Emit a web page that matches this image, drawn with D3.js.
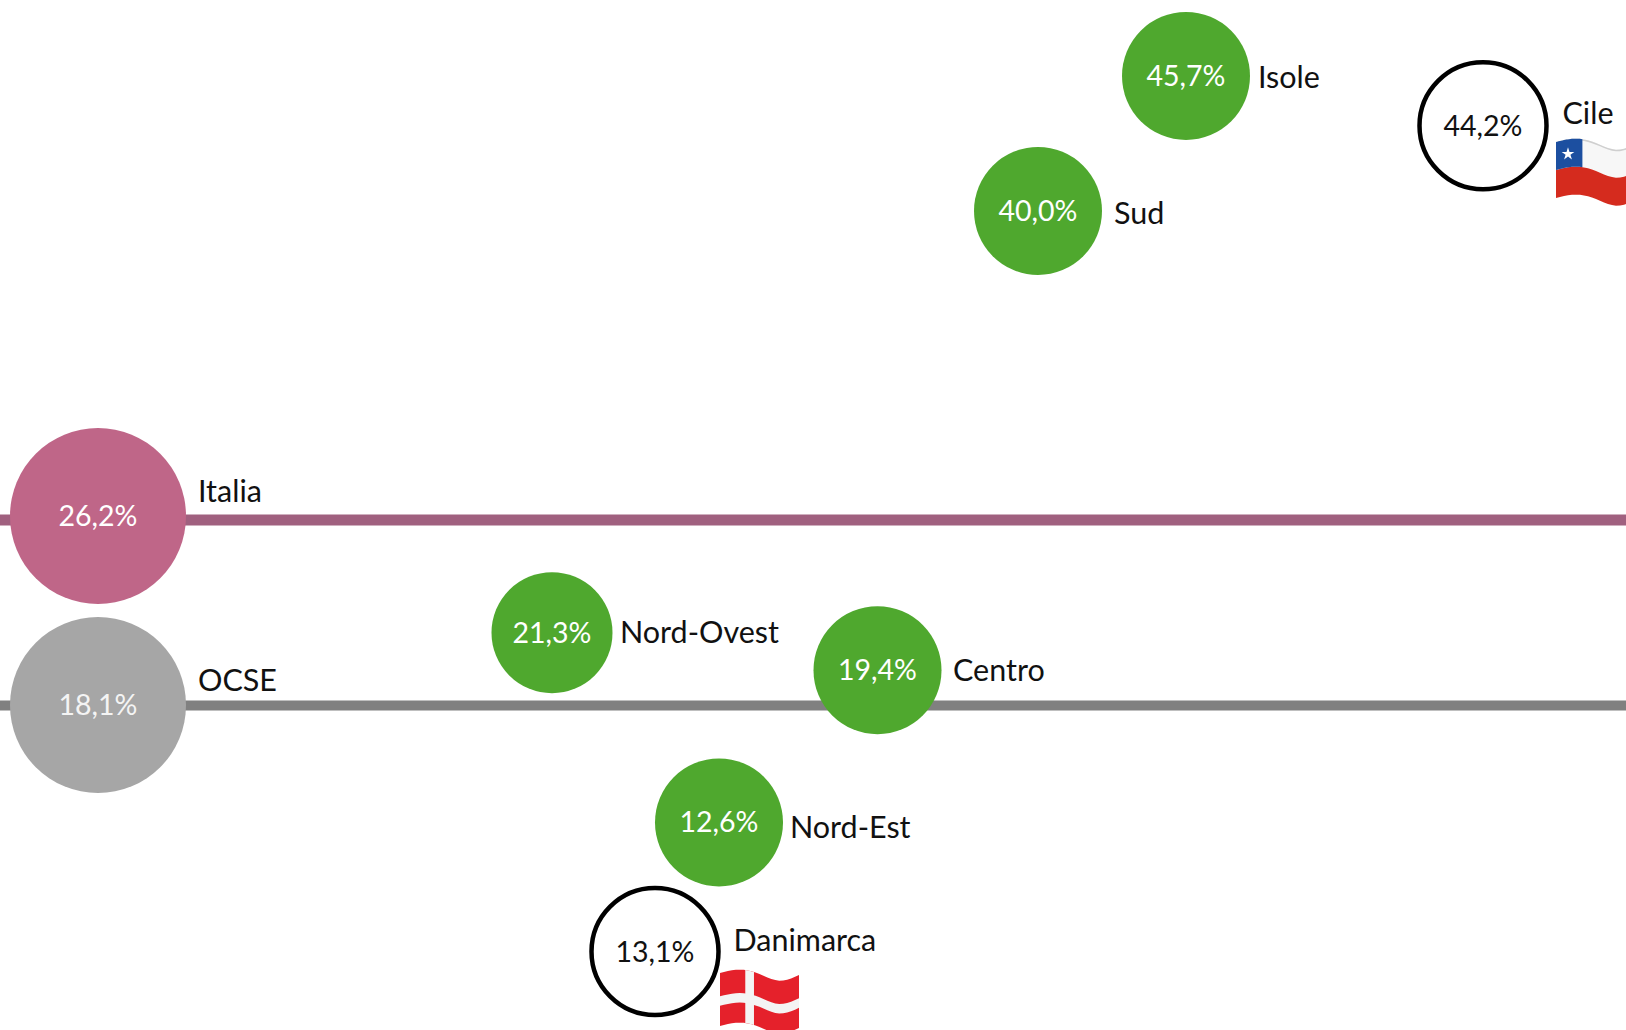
<!DOCTYPE html>
<html>
<head>
<meta charset="utf-8">
<script src="https://cdn.jsdelivr.net/npm/d3@7"></script>
<style>
  html, body { margin: 0; padding: 0; background: #fff; overflow: hidden; }
  svg { display: block; }
  text { font-family: Lato, "Noto Sans", sans-serif; }
</style>
</head>
<body>
<svg id="chart" width="1626" height="1030"></svg>
<script>
// data
const names = ['Italia', 'OCSE', 'Isole', 'Sud', 'Nord-Ovest', 'Centro', 'Nord-Est', 'Cile', 'Danimarca']
const values = [26.2, 18.1, 45.7, 40.0, 21.3, 19.4, 12.6, 44.2, 13.1]
const groups = ['italy', 'oecd', 'region', 'region', 'region', 'region', 'region', 'country', 'country']
const refNames = ['Italia', 'OCSE']
const refValues = [26.2, 18.1]

// layout: the chart spreads its bubbles sideways by hand, and shifts a few off their value
const xRange = [98, 98, 1186, 1038, 552, 877.5, 719, 1483, 655]
const yShift = [-4, -0.5, 2.5, 7, 0.5, -5.5, -9, 18, 131.5]
const radii = [88, 88, 64, 64, 60.5, 64, 64, 63.5, 63.5]
const labelDx = [100, 100, 72, 76, 68, 75.5, 71, 79.5, 78.5]
const labelDy = [-14, -14, 12, 13, 10, 10.5, 16, -2, -1]

const width = 1626
const height = 1030

const x = d3.scaleOrdinal().domain(names).range(xRange)
const y = d3.scaleLinear().domain([18.1, 26.2]).range([705.5, 520])
const colour = d3.scaleOrdinal()
  .domain(['italy', 'oecd', 'region', 'country'])
  .range(['#bf6688', '#a6a6a6', '#4fa82e', '#fff'])
const textColour = d3.scaleOrdinal()
  .domain(['italy', 'oecd', 'region', 'country'])
  .range(['#fff', '#f4f4f4', '#fff', '#111'])
const lineColour = d3.scaleOrdinal().domain(refNames).range(['#a0607f', '#808080'])
const lineWidth = d3.scaleOrdinal().domain(refNames).range([11, 10])

const format = d3.formatLocale({ decimal: ',', thousands: '.', grouping: [3], currency: ['', ''] }).format('.1f')

const data = names.map((name, i) => ({
  name,
  value: values[i],
  group: groups[i],
  r: radii[i],
  cy: y(values[i]) + yShift[i],
  dx: labelDx[i],
  dy: labelDy[i]
}))

const svg = d3.select('#chart')

// reference lines
svg.append('g')
  .selectAll('line')
  .data(refNames)
  .enter()
  .append('line')
  .attr('x1', 0)
  .attr('x2', width)
  .attr('y1', (d, i) => y(refValues[i]))
  .attr('y2', (d, i) => y(refValues[i]))
  .attr('stroke', d => lineColour(d))
  .attr('stroke-width', d => lineWidth(d))

// bubbles
const bubble = svg.append('g')
  .selectAll('g')
  .data(data)
  .enter()
  .append('g')
  .attr('transform', d => `translate(${x(d.name)},${d.cy})`)

bubble.append('circle')
  .attr('r', d => d.r)
  .attr('fill', d => colour(d.group))
  .attr('stroke', d => (d.group === 'country' ? '#000' : 'none'))
  .attr('stroke-width', 4.5)

bubble.append('text')
  .attr('text-anchor', 'middle')
  .attr('y', 10)
  .attr('font-size', 28.5)
  .attr('fill', d => textColour(d.group))
  .text(d => format(d.value) + '%')

bubble.append('text')
  .attr('x', d => d.dx)
  .attr('y', d => d.dy)
  .attr('font-size', 30.5)
  .attr('fill', '#111')
  .text(d => d.name)

// flags, waved by shifting every column of a band
const waveAt = d3.interpolateBasis([2, -3, 2, 13, 4])

function band(g, box, u0, u1, v0, v1, fill) {
  const us = d3.range(0, 1.001, 0.05).map(t => u0 + (u1 - u0) * t)
  const px = d3.scaleLinear().domain([0, 1]).range([box.x, box.x + box.w])
  const py = d3.scaleLinear().domain([0, 1]).range([box.y, box.y + box.h])
  const line = d3.line().x(d => px(d[0])).y(d => py(d[1]) + waveAt(d[0]))
  const pts = us.map(u => [u, v0]).concat(us.slice().reverse().map(u => [u, v1]))
  g.append('path').attr('d', line(pts) + 'Z').attr('fill', fill)
}

const chile = svg.append('g')
const chileBox = { x: 1556, y: 140, w: 80, h: 56 }
band(chile, chileBox, 0, 1, 0, 0.5, '#f7f7f7')
band(chile, chileBox, 0, 1, 0, 0.03, '#cfcfcf')
band(chile, chileBox, 0, 1, 0.5, 1, '#d52b1e')
band(chile, chileBox, 0, 0.33, 0, 0.5, '#1c4fa0')
chile.append('path')
  .attr('d', d3.symbol(d3.symbolStar, 50)())
  .attr('transform', 'translate(1568,154)')
  .attr('fill', '#fff')

const denmark = svg.append('g')
const denmarkBox = { x: 720, y: 971, w: 79, h: 53 }
band(denmark, denmarkBox, 0, 1, 0, 1, '#e5212b')
band(denmark, denmarkBox, 0.32, 0.43, 0, 1, '#f4f4f4')
band(denmark, denmarkBox, 0, 1, 0.44, 0.62, '#f4f4f4')
</script>
</body>
</html>
